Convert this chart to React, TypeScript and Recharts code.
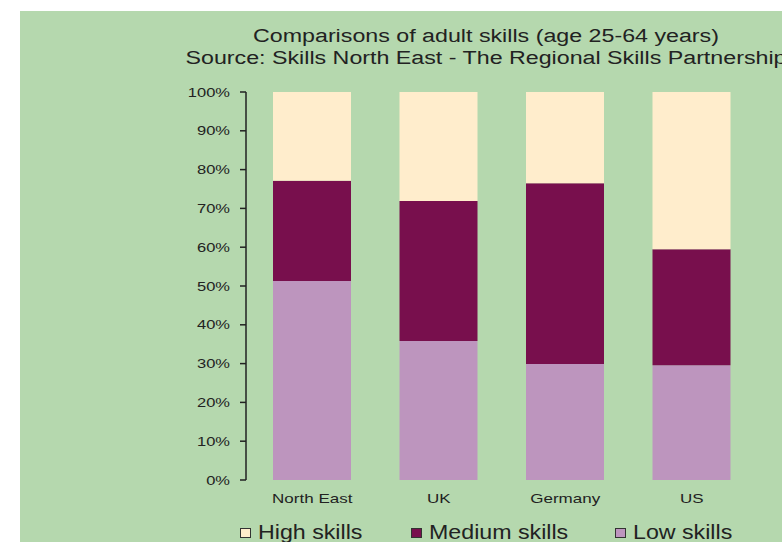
import React from "react";
import { Bar, BarChart, Legend, XAxis, YAxis } from "recharts";

// values (percent of adults 25-64)
const regions = ["North East", "UK", "Germany", "US"];
const lowSkills = [51.3, 35.8, 29.9, 29.6];
const mediumSkills = [25.8, 36.1, 46.6, 29.9];
const highSkills = [22.9, 28.1, 23.5, 40.5];
const yTicks = [0, 10, 20, 30, 40, 50, 60, 70, 80, 90, 100];
const bandEdges = [0, 1, 2, 3, 4];

const GREEN = "#b5d8ae";
const HIGH = "#ffedcc";
const MEDIUM = "#780f4d";
const LOW = "#bd95be";
const INK = "#222";
const FONT = "'Liberation Sans', Arial, Helvetica, sans-serif";
// the original artwork is stretched horizontally
const STRETCH = 1.29;

const chartData = regions.map((name, i) => ({
  name,
  low: lowSkills[i],
  medium: mediumSkills[i],
  high: highSkills[i],
}));

const legendItems = [
  { label: "High skills", color: HIGH, width: 171 },
  { label: "Medium skills", color: MEDIUM, width: 204 },
  { label: "Low skills", color: LOW, width: 140 },
];

function SkillsLegend() {
  return (
    <div style={{ display: "flex", alignItems: "center", fontSize: 20, color: INK, fontFamily: FONT }}>
      {legendItems.map((it) => (
        <div key={it.label} style={{ display: "flex", alignItems: "center", width: it.width }}>
          <span
            style={{
              display: "inline-block",
              flex: "none",
              width: 9,
              height: 8,
              background: it.color,
              border: "1px solid #333",
              marginRight: 7,
            }}
          />
          <span style={{ whiteSpace: "nowrap", transform: "scaleX(1.16)", transformOrigin: "left center" }}>
            {it.label}
          </span>
        </div>
      ))}
    </div>
  );
}

function YTick({ x, y, payload }: any) {
  return (
    <text
      x={x}
      y={y}
      dy="0.355em"
      textAnchor="end"
      fill={INK}
      fontSize={13}
      transform={`translate(${x} 0) scale(1.27 1) translate(${-x} 0)`}
    >
      {`${payload.value}%`}
    </text>
  );
}

function XTick({ x, y, payload }: any) {
  return (
    <text
      x={x}
      y={y}
      dy="0.71em"
      textAnchor="middle"
      fill={INK}
      fontSize={13}
      transform={`translate(${x} 0) scale(1.31 1) translate(${-x} 0)`}
    >
      {payload.value}
    </text>
  );
}

export default function App() {
  return (
    <div
      style={{
        position: "relative",
        width: 782,
        height: 542,
        overflow: "hidden",
        background: "#fff",
        fontFamily: FONT,
      }}
    >
      <style>{"body{margin:0}"}</style>
      <div style={{ position: "absolute", left: 20, top: 11, width: 762, height: 531, background: GREEN }}>
        <div
          style={{
            position: "absolute",
            left: -34,
            top: 14,
            width: 1000,
            textAlign: "center",
            fontSize: 18,
            lineHeight: "22px",
            color: INK,
            whiteSpace: "nowrap",
            transform: `scaleX(${STRETCH})`,
            transformOrigin: "center top",
          }}
        >
          <div>Comparisons of adult skills (age 25-64 years)</div>
          <div>Source: Skills North East - The Regional Skills Partnership</div>
        </div>
        <BarChart
          width={762}
          height={531}
          data={chartData}
          margin={{ top: 81, right: 27, left: 166, bottom: 32 }}
        >
          <XAxis
            xAxisId="edges"
            type="number"
            domain={[0, 4]}
            ticks={bandEdges}
            allowDataOverflow
            tick={false}
            height={0}
            tickSize={6}
            stroke={INK}
            strokeWidth={1.5}
          />
          <XAxis
            dataKey="name"
            axisLine={false}
            tickLine={false}
            tickSize={6}
            tickMargin={8}
            height={30}
            padding={{ left: 3, right: 0 }}
            tick={<XTick />}
            interval={0}
          />
          <YAxis
            width={60}
            domain={[0, 100]}
            ticks={yTicks}
            tickSize={6}
            tickMargin={10}
            stroke={INK}
            strokeWidth={1.5}
            tick={<YTick />}
            interval={0}
          />
          <Legend
            content={() => <SkillsLegend />}
            wrapperStyle={{ left: 220, top: 510, bottom: "auto", width: "auto", height: 0, overflow: "visible" }}
          />
          <Bar dataKey="low" stackId="s" fill={LOW} barSize={78} isAnimationActive={false} />
          <Bar dataKey="medium" stackId="s" fill={MEDIUM} barSize={78} isAnimationActive={false} />
          <Bar dataKey="high" stackId="s" fill={HIGH} barSize={78} isAnimationActive={false} />
        </BarChart>
      </div>
    </div>
  );
}
